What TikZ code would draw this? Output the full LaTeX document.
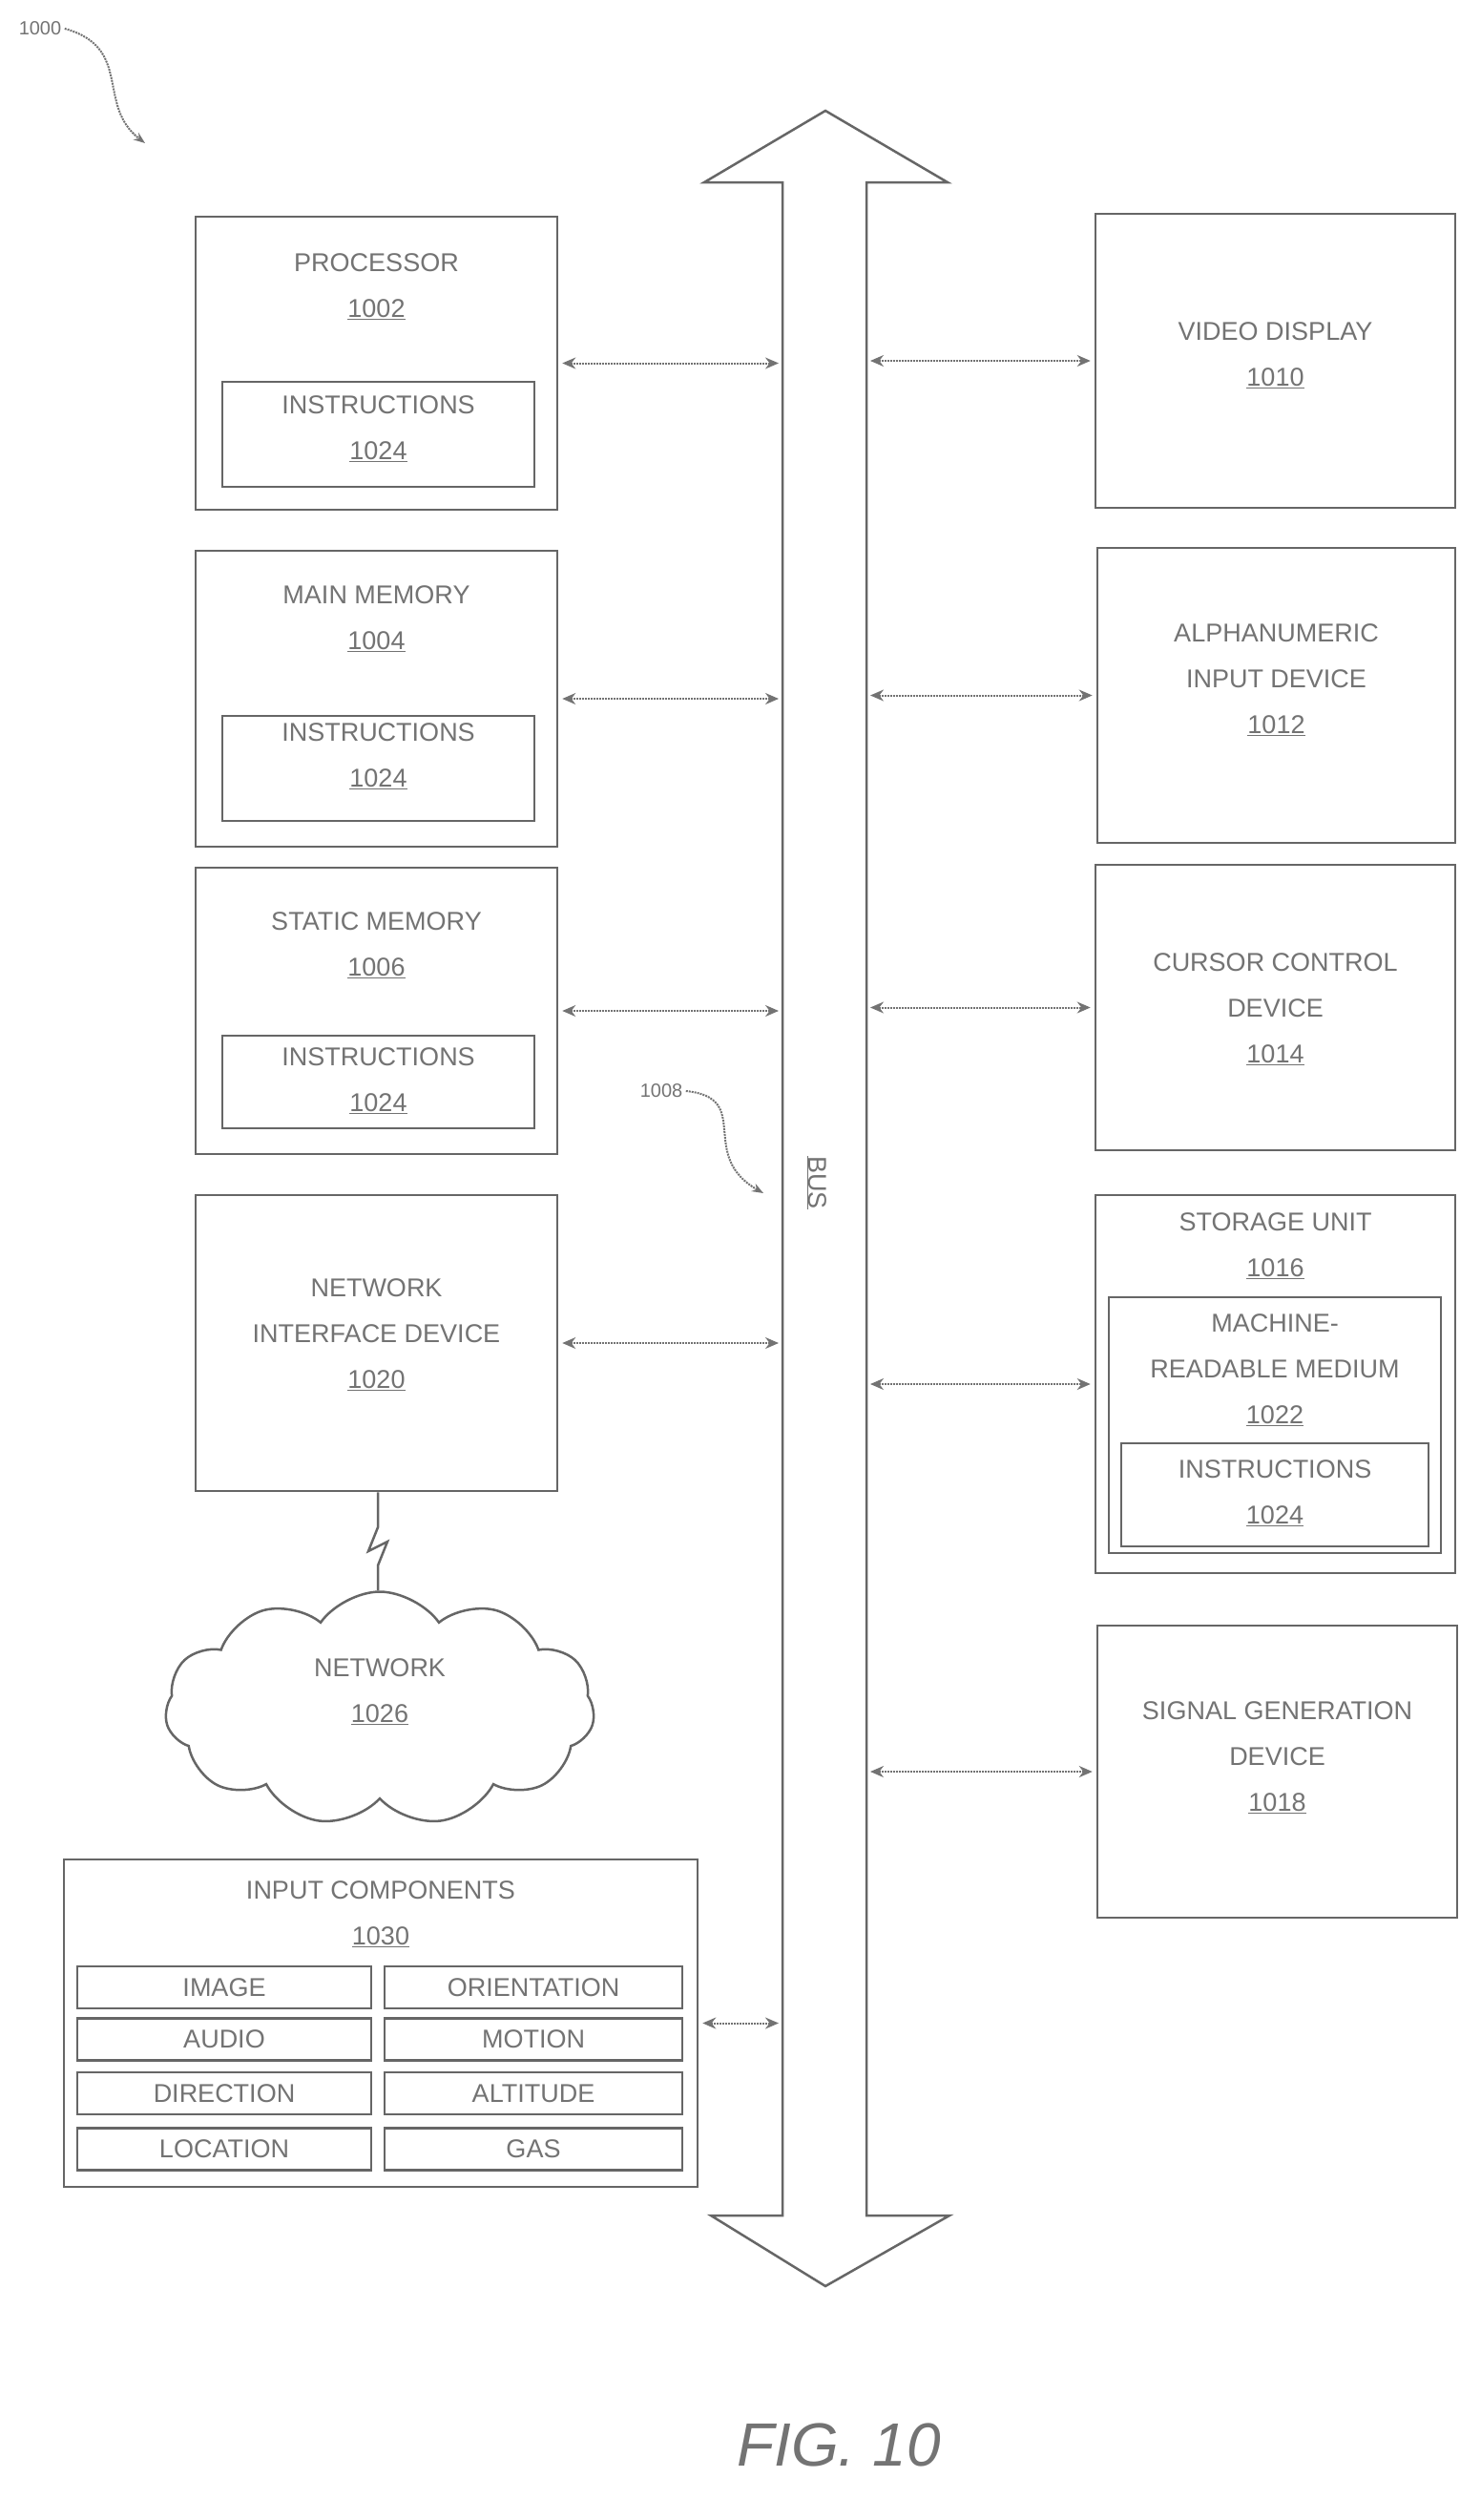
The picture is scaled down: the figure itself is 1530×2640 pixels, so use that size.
\documentclass[tikz,border=0pt]{standalone}
\usepackage{fontspec}
\setmainfont{Liberation Sans}
\usetikzlibrary{arrows.meta, positioning, shapes.symbols}

\begin{document}
\begin{tikzpicture}[x=1pt, y=-1pt, >=Stealth,
  every node/.style={text=black!55, font=\fontsize{27}{48}\selectfont},
  box/.style={draw=black!60, line width=2.5pt, rectangle, inner sep=0pt},
  lbl/.style={align=center, inner sep=0pt},
  link/.style={<->, densely dotted, draw=black!55, line width=2pt, shorten >=4pt, shorten <=4pt,
               >={Stealth[length=14pt, width=12pt]}},
  leader/.style={densely dotted, draw=black!55, line width=2pt}]
\useasboundingbox (0,0) rectangle (1530,2640);

% bus
\draw[box] (820,191) -- (738,191) -- (865,116) -- (993,191) -- (908,191)
  -- (908,2321) -- (995,2321) -- (865,2395) -- (745,2321) -- (820,2321) -- cycle;
\coordinate (busL) at (820,0);
\coordinate (busR) at (908,0);
\node[rotate=-90] (bus) at (856,1239) {\underline{BUS}};

% left column
\node[box, minimum width=379, minimum height=307] (proc) at (394.5,380.5) {};
\node[box, minimum width=327, minimum height=110] (instrA) at (396.5,455) {};
\node[lbl] (procT) at (394.5,300) {PROCESSOR\\\underline{1002}};
\node[lbl] (instrAT) at (396.5,449) {INSTRUCTIONS\\\underline{1024}};

\node[box, minimum width=379, minimum height=310] (mainmem) at (394.5,732) {};
\node[box, minimum width=327, minimum height=110] (instrB) at (396.5,805) {};
\node[lbl] (mainmemT) at (394.5,648) {MAIN MEMORY\\\underline{1004}};
\node[lbl] (instrBT) at (396.5,792) {INSTRUCTIONS\\\underline{1024}};

\node[box, minimum width=379, minimum height=300] (statmem) at (394.5,1059) {};
\node[box, minimum width=327, minimum height=97] (instrC) at (396.5,1133.5) {};
\node[lbl] (statmemT) at (394.5,990) {STATIC MEMORY\\\underline{1006}};
\node[lbl] (instrCT) at (396.5,1132) {INSTRUCTIONS\\\underline{1024}};

\node[box, minimum width=379, minimum height=310] (netif) at (394.5,1407) {};
\node[lbl] (netifT) at (394.5,1398) {NETWORK\\INTERFACE DEVICE\\\underline{1020}};

\node[cloud, cloud puffs=11, cloud puff arc=110, aspect=1.9, draw=black!60, line width=2.5pt,
      minimum width=450, minimum height=245] (net) at (398,1790) {};
\node[lbl] (netT) at (398,1772) {NETWORK\\\underline{1026}};

% input components
\node[box, minimum width=664, minimum height=343] (input) at (399,2119.5) {};
\node[lbl] (inputT) at (399,2005) {INPUT COMPONENTS\\\underline{1030}};
\foreach \row/\y/\l/\r in {1/2082/IMAGE/ORIENTATION, 2/2136.5/AUDIO/MOTION,
                           3/2193/DIRECTION/ALTITUDE, 4/2251.5/LOCATION/GAS} {
  \node[box, minimum width=308, minimum height=44, label={[text=black!55]center:\l}] (inL\row) at (235,\y) {};
  \node[box, minimum width=312, minimum height=44, label={[text=black!55]center:\r}] (inR\row) at (559,\y) {};
}

% right column
\node[box, minimum width=377, minimum height=308] (video) at (1336.5,378) {};
\node[lbl] (videoT) at (1336.5,372) {VIDEO DISPLAY\\\underline{1010}};

\node[box, minimum width=375, minimum height=309] (alpha) at (1337.5,728.5) {};
\node[lbl] (alphaT) at (1337.5,712) {ALPHANUMERIC\\INPUT DEVICE\\\underline{1012}};

\node[box, minimum width=377, minimum height=299] (cursor) at (1336.5,1055.5) {};
\node[lbl] (cursorT) at (1336.5,1057) {CURSOR CONTROL\\DEVICE\\\underline{1014}};

\node[box, minimum width=377, minimum height=396] (storage) at (1336.5,1450) {};
\node[box, minimum width=348, minimum height=268] (mrm) at (1336,1493) {};
\node[box, minimum width=322, minimum height=108] (instrD) at (1336,1566) {};
\node[lbl] (storageT) at (1336.5,1305) {STORAGE UNIT\\\underline{1016}};
\node[lbl] (mrmT) at (1336,1435) {MACHINE-\\READABLE MEDIUM\\\underline{1022}};
\node[lbl] (instrDT) at (1336,1564) {INSTRUCTIONS\\\underline{1024}};

\node[box, minimum width=377, minimum height=306] (signal) at (1338.5,1856) {};
\node[lbl] (signalT) at (1338.5,1841) {SIGNAL GENERATION\\DEVICE\\\underline{1018}};

% bus connections
\foreach \n in {proc, mainmem, statmem, netif, input}
  \draw[link] (\n.east) -- (\n.east -| busL);
\foreach \n in {video, alpha, cursor, storage, signal}
  \draw[link] (\n.west -| busR) -- (\n.west);

% network link
\coordinate (zz1) at (396,1600);
\coordinate (zz2) at (386,1625);
\coordinate (zz3) at (406,1615);
\coordinate (zz4) at (396,1640);
\draw[box] (netif.south -| zz1) -- (zz1) -- (zz2) -- (zz3) -- (zz4) -- (net.north -| zz4);

% reference labels
\node (ref1000) at (42,30) {\fontsize{20}{24}\selectfont 1000};
\coordinate (ref1000end) at (152,150);
\draw[leader, ->] (ref1000.east) .. controls (140,50) and (100,110) .. (ref1000end);
\node (ref1008) at (693,1143) {\fontsize{20}{24}\selectfont 1008};
\coordinate (ref1008end) at (800,1250);
\draw[leader, ->] (ref1008.east) .. controls (790,1150) and (730,1210) .. (ref1008end);

\node (fig) at (879,2561) {\fontsize{64}{70}\selectfont\itshape FIG. 10};
\end{tikzpicture}
\end{document}
